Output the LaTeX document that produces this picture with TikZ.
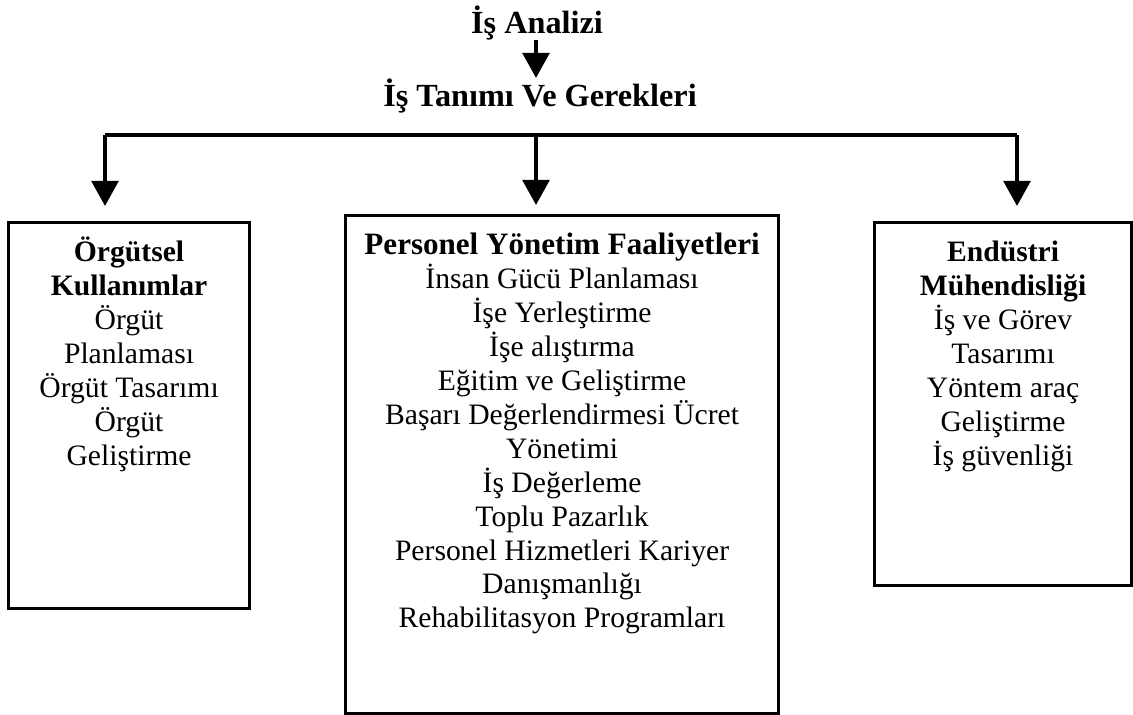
\documentclass[tikz,border=0pt]{standalone}
\usepackage{fontspec}
\setmainfont{Liberation Serif}
\usetikzlibrary{arrows.meta,positioning}
\newlength\pxu
\setlength\pxu{0.4184pt}
\newcommand{\kutuyazi}[3]{\parbox[c][#2\pxu][t]{#1\pxu}{\centering\rule{0pt}{39\pxu}#3}}
\tikzset{
  kutu/.style={draw, line width=1.3pt, inner sep=0pt, anchor=north west,
    font=\fontsize{12.4}{14.2}\selectfont},
  baslik/.style={inner sep=0pt, anchor=base, font=\fontsize{13.5}{15}\selectfont\bfseries},
  ok/.style={->, line width=1.3pt},
}
\begin{document}
\begin{tikzpicture}[x=0.4184pt, y=-0.4184pt, >={Triangle[length=10.5pt,width=11.3pt]}]
	\useasboundingbox (0,0) rectangle (1133,714);

	\node [baslik] (analiz) at (537,33)  {İş Analizi};
	\node [baslik] (tanim)  at (540,106) {İş Tanımı Ve Gerekleri};

	\coordinate (busL) at (105,135);
	\coordinate (busC) at (536,135);
	\coordinate (busR) at (1017,135);

	\node [kutu] (orgut) at (7,221) {\kutuyazi{241}{386}{%
		\textbf{Örgütsel}\\ \textbf{Kullanımlar}\\ Örgüt\\ Planlaması\\
		Örgüt Tasarımı\\ Örgüt\\ Geliştirme}};
	\node [kutu] (personel) at (344,214) {\kutuyazi{433}{498}{%
		{\fontsize{13}{14.2}\selectfont\textbf{Personel Yönetim Faaliyetleri}}\\
		İnsan Gücü Planlaması\\
		İşe Yerleştirme\\ İşe alıştırma\\ Eğitim ve Geliştirme\\
		Başarı Değerlendirmesi Ücret\\ Yönetimi\\ İş Değerleme\\
		Toplu Pazarlık\\ Personel Hizmetleri Kariyer\\ Danışmanlığı\\
		Rehabilitasyon Programları}};
	\node [kutu] (endustri) at (873,221) {\kutuyazi{257}{363}{%
		\textbf{Endüstri}\\ \textbf{Mühendisliği}\\ İş ve Görev\\ Tasarımı\\
		Yöntem araç\\ Geliştirme\\ İş güvenliği}};

	\draw [ok] (analiz.south -| busC) -- (busC |- tanim.north);
	\draw [line width=1.3pt] (busL) -- (busR);
	\draw [ok, shorten >=6.3pt] (busL) -- (busL |- orgut.north);
	\draw [ok, shorten >=3.8pt] (busC) -- (busC |- personel.north);
	\draw [ok, shorten >=6.3pt] (busR) -- (busR |- endustri.north);
\end{tikzpicture}
\end{document}
